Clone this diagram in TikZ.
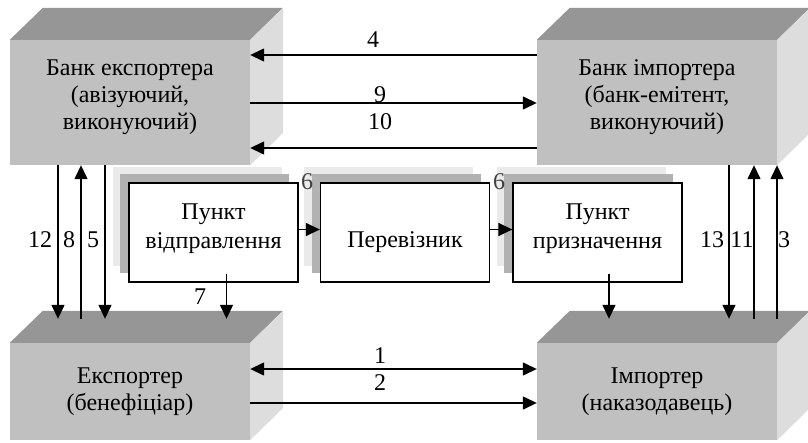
\documentclass[tikz,border=0pt]{standalone}
\usepackage{fontspec}
\setmainfont{Liberation Serif}
\usetikzlibrary{arrows.meta,shadows}
\definecolor{frontc}{HTML}{C0C0C0}
\definecolor{topc}{HTML}{969696}
\definecolor{sidec}{HTML}{DDDDDD}
\definecolor{shdark}{HTML}{B2B2B2}
\definecolor{shlight}{HTML}{EAEAEA}
\begin{document}
\begin{tikzpicture}[x=1pt,y=-1pt,
  font=\fontsize{24}{27}\selectfont,
  front/.style={fill=frontc, draw=none, minimum width=240pt, inner sep=0pt},
  boxtxt/.style={inner sep=0pt, align=center},
  midtxt/.style={inner sep=0pt, align=center, font=\fontsize{24}{29.5}\selectfont},
  topface/.style={fill=topc},
  sideface/.style={fill=sidec},
  pbox/.style={draw=black, line width=1.3pt, fill=white, minimum width=169pt, minimum height=99pt,
    general shadow={fill=shlight, shadow xshift=-16.5pt, shadow yshift=16.5pt},
    general shadow={fill=shdark, shadow xshift=-9pt, shadow yshift=9pt}},
  arr/.style={line width=1.4pt, -{Triangle[length=14pt,width=13pt]}},
  darr/.style={line width=1.4pt, {Triangle[length=14pt,width=13pt]}-{Triangle[length=14pt,width=13pt]}},
  lbl/.style={inner sep=0pt},
  sixlbl/.style={inner sep=0pt, text=black!75}]
\useasboundingbox (0,0) rectangle (808,442);

% 3D boxes (front faces)
\node[front, minimum height=125pt] (be) at (130,102.5) {};
\node[front, minimum height=125pt] (bi) at (657,102.5) {};
\node[front, minimum height=97pt] (ex) at (130,391.5) {};
\node[front, minimum height=97pt] (im) at (657,391.5) {};

\foreach \b/\h in {be/125,bi/125,ex/97,im/97}{
  \fill[topface] (\b.north west) -- ++(33,-32) -- ++(240,0) -- (\b.north east) -- cycle;
  \fill[sideface] (\b.north east) -- ++(33,-32) -- ++(0,\h) -- (\b.south east) -- cycle;
}

\node[boxtxt] (be-t) at ([yshift=5pt]be.center) {Банк експортера\\(авізуючий,\\виконуючий)};
\node[boxtxt] (bi-t) at ([yshift=5pt]bi.center) {Банк імпортера\\(банк-емітент,\\виконуючий)};
\node[boxtxt] (ex-t) at (ex.center) {Експортер\\(бенефіціар)};
\node[boxtxt] (im-t) at (im.center) {Імпортер\\(наказодавець)};

% middle boxes
\node[pbox] (p1) at (213.5,232.5) {};
\node[pbox] (p2) at (405,232.5) {};
\node[pbox] (p3) at (597.5,232.5) {};
\node[midtxt] (p1-t) at ([yshift=4pt]p1.center) {Пункт\\відправлення};
\node[midtxt] (p2-t) at ([yshift=-10pt]p2.center) {Перевізник};
\node[midtxt] (p3-t) at ([yshift=4pt]p3.center) {Пункт\\призначення};
\node[sixlbl] (six1) at (307,182) {6};
\node[sixlbl] (six2) at (499,182) {6};

\coordinate (exTop) at ([yshift=24pt]ex.north);
\coordinate (imTop) at ([yshift=24pt]im.north);

% chain arrows
\draw[arr] ([yshift=3pt]p1.east) -- ([yshift=3pt]p2.west);
\draw[arr] ([yshift=3pt]p2.east) -- ([yshift=3pt]p3.west);
\draw[arr] ([xshift=13pt,yshift=9pt]p1.south) -- ([xshift=13pt]p1.south |- exTop);
\draw[arr] ([xshift=11.5pt,yshift=9pt]p3.south) -- ([xshift=11.5pt]p3.south |- imTop);

% top horizontal arrows
\draw[arr] (bi.west |- 0,55) -- (be.east |- 0,55);
\draw[arr] (be.east |- 0,103) -- (bi.west |- 0,103);
\draw[arr] (bi.west |- 0,148) -- (be.east |- 0,148);

% bottom horizontal arrows
\draw[darr] (ex.east |- 0,369) -- (im.west |- 0,369);
\draw[arr] (ex.east |- 0,403) -- (im.west |- 0,403);

% left verticals
\draw[arr] (be.south -| 58,0) -- (exTop -| 58,0);
\draw[arr] (exTop -| 81,0) -- (be.south -| 81,0);
\draw[arr] (be.south -| 105,0) -- (exTop -| 105,0);

% right verticals
\draw[arr] (bi.south -| 729,0) -- (imTop -| 729,0);
\draw[arr] (imTop -| 754,0) -- (bi.south -| 754,0);
\draw[arr] (imTop -| 777,0) -- (bi.south -| 777,0);

% labels
\node[lbl] (l4) at (373,40) {4};
\node[lbl] (l9) at (380,95) {9};
\node[lbl] (l10) at (380,122) {10};
\node[lbl] (l1) at (380,356) {1};
\node[lbl] (l2) at (380,383) {2};
\node[lbl] (l12) at (40,240) {12};
\node[lbl] (l8) at (69,240) {8};
\node[lbl] (l5) at (93,240) {5};
\node[lbl] (l13) at (712,240) {13};
\node[lbl] (l11) at (742,240) {11};
\node[lbl] (l3) at (784,240) {3};
\node[lbl] (l7) at (200,297) {7};
\end{tikzpicture}
\end{document}
